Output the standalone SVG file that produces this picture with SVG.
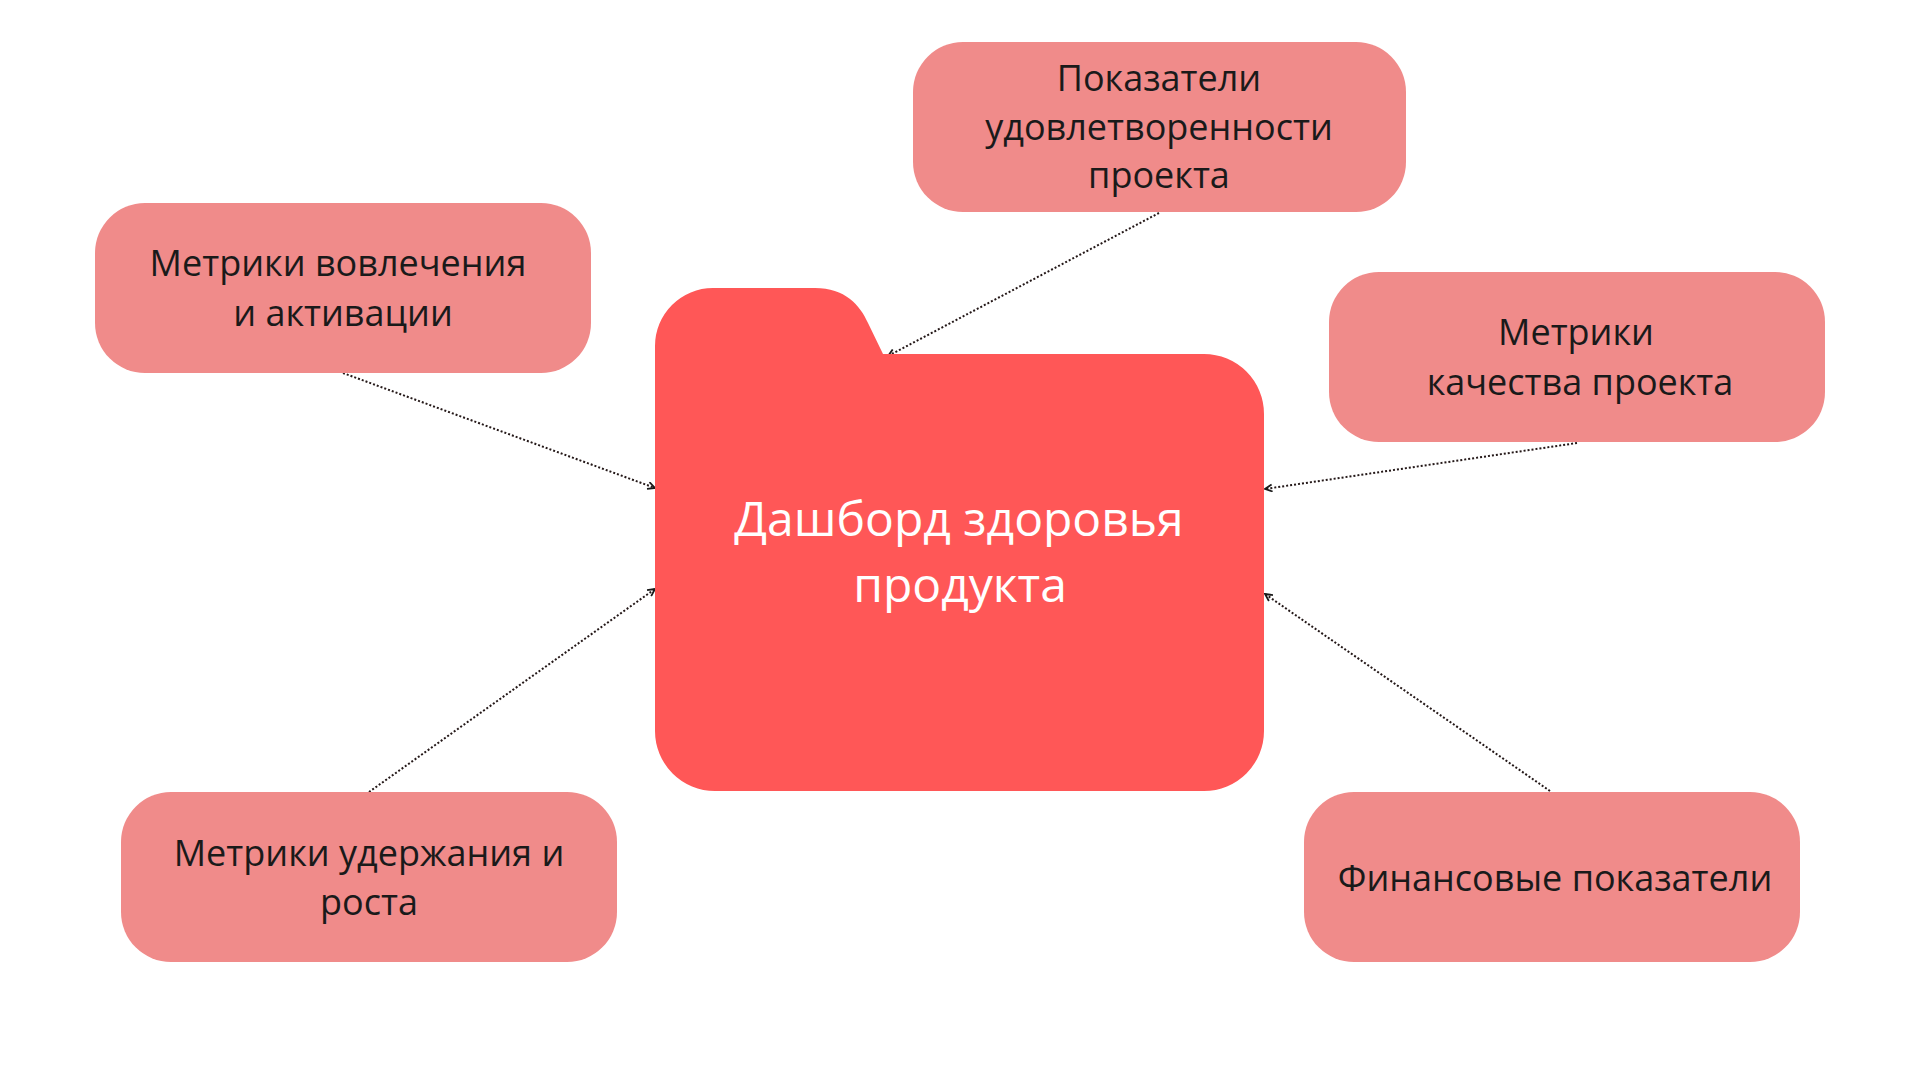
<svg xmlns="http://www.w3.org/2000/svg" width="1920" height="1080" viewBox="0 0 1920 1080">
  <style>
    .box { fill: #F08B8A; }
    .folder { fill: #FF5757; }
    .lbl { font-family: "Open Sans", "Noto Sans", "DejaVu Sans", sans-serif; font-size: 36px; fill: #1a1a1a; text-anchor: middle; }
    .main { font-family: "Open Sans", "Noto Sans", "DejaVu Sans", sans-serif; font-size: 48px; fill: #ffffff; text-anchor: middle; }
    .conn { fill: none; stroke: #241818; stroke-width: 2; stroke-dasharray: 2 2; }
  </style>
  <defs>
    <marker id="arr" viewBox="0 0 10 10" refX="9" refY="5" markerWidth="9" markerHeight="9" markerUnits="userSpaceOnUse" orient="auto">
      <path d="M1,1 L9,5 L1,9" fill="none" stroke="#1a1a1a" stroke-width="2"/>
    </marker>
  </defs>
  <rect width="1920" height="1080" fill="#ffffff"/>

  <g id="connectors">
    <line class="conn" x1="1159" y1="213" x2="888" y2="356" marker-end="url(#arr)"/>
    <line class="conn" x1="343" y1="373" x2="655" y2="488" marker-end="url(#arr)"/>
    <line class="conn" x1="1577" y1="443" x2="1265" y2="489" marker-end="url(#arr)"/>
    <line class="conn" x1="369" y1="792" x2="655" y2="589" marker-end="url(#arr)"/>
    <line class="conn" x1="1550" y1="791" x2="1265" y2="594" marker-end="url(#arr)"/>
  </g>

  <g id="folder-main">
    <path class="folder" d="M655,346 A58,58 0 0 1 713,288 H815 C845,288 860,305 868,323 L883,354 H1204 A60,60 0 0 1 1264,414 V731 A60,60 0 0 1 1204,791 H715 A60,60 0 0 1 655,731 Z"/>
    <text class="main" x="959" y="536">Дашборд здоровья</text>
    <text class="main" x="960" y="602">продукта</text>
  </g>

  <g id="node-satisfaction">
    <rect class="box" x="913" y="42" width="493" height="170" rx="50"/>
    <text class="lbl" x="1159" y="91">Показатели</text>
    <text class="lbl" x="1159" y="140">удовлетворенности</text>
    <text class="lbl" x="1159" y="188">проекта</text>
  </g>

  <g id="node-engagement">
    <rect class="box" x="95" y="203" width="496" height="170" rx="50"/>
    <text class="lbl" x="338" y="276">Метрики вовлечения</text>
    <text class="lbl" x="343" y="326">и активации</text>
  </g>

  <g id="node-quality">
    <rect class="box" x="1329" y="272" width="496" height="170" rx="50"/>
    <text class="lbl" x="1576" y="345">Метрики</text>
    <text class="lbl" x="1580" y="395">качества проекта</text>
  </g>

  <g id="node-retention">
    <rect class="box" x="121" y="792" width="496" height="170" rx="50"/>
    <text class="lbl" x="369" y="866">Метрики удержания и</text>
    <text class="lbl" x="369" y="915">роста</text>
  </g>

  <g id="node-finance">
    <rect class="box" x="1304" y="792" width="496" height="170" rx="50"/>
    <text class="lbl" x="1555" y="891">Финансовые показатели</text>
  </g>
</svg>
